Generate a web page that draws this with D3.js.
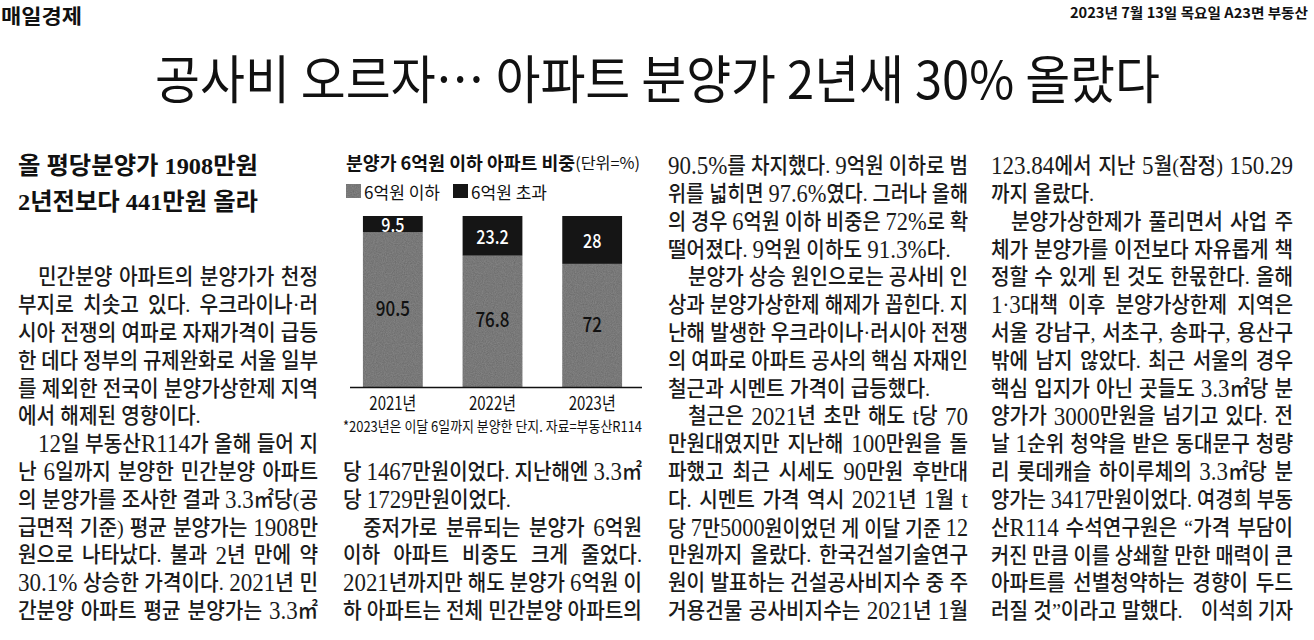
<!DOCTYPE html>
<html>
<head>
<meta charset="utf-8">
<script src="https://cdn.jsdelivr.net/npm/d3@7"></script>
<style>
    html, body { margin: 0; padding: 0; background: #fff; }
    svg { display: block; }
    .body { font-family: 'Liberation Serif', 'Noto Sans CJK KR', serif; font-size: 22px; font-weight: 500; fill: #1b1b1b; }
    .gothic { font-family: 'Noto Sans CJK KR', 'Noto Sans', sans-serif; }
</style>
</head>
<body>
<svg id="page" width="1314" height="640"></svg>
<script>
(function () {
    const years = ['2021년', '2022년', '2023년'];
    const under6 = [90.5, 76.8, 72];
    const over6 = [9.5, 23.2, 28];
    const legendLabels = ['6억원 이하', '6억원 초과'];
    const chartTitle = '분양가 6억원 이하 아파트 비중';
    const chartUnit = '(단위=%)';
    const chartNote = '*2023년은 이달 6일까지 분양한 단지. 자료=부동산R114';

    const masthead = '매일경제';
    const dateline = '2023년 7월 13일 목요일 A23면 부동산';
    const headline = '공사비 오르자… 아파트 분양가 2년새 30% 올랐다';
    const subheads = ['올 평당분양가 1908만원', '2년전보다 441만원 올라'];
    const byline = '이석희 기자';

    // '^' = indented first line, '$' = last line of paragraph (not justified)
    const column1 = [
        '^민간분양 아파트의 분양가가 천정',
        '부지로 치솟고 있다. 우크라이나·러',
        '시아 전쟁의 여파로 자재가격이 급등',
        '한 데다 정부의 규제완화로 서울 일부',
        '를 제외한 전국이 분양가상한제 지역',
        '에서 해제된 영향이다.$',
        '^12일 부동산R114가 올해 들어 지',
        '난 6일까지 분양한 민간분양 아파트',
        '의 분양가를 조사한 결과 3.3㎡당(공',
        '급면적 기준) 평균 분양가는 1908만',
        '원으로 나타났다. 불과 2년 만에 약',
        '30.1% 상승한 가격이다. 2021년 민',
        '간분양 아파트 평균 분양가는 3.3㎡',
    ];
    const column2 = [
        '당 1467만원이었다. 지난해엔 3.3㎡',
        '당 1729만원이었다.$',
        '^중저가로 분류되는 분양가 6억원',
        '이하 아파트 비중도 크게 줄었다.',
        '2021년까지만 해도 분양가 6억원 이',
        '하 아파트는 전체 민간분양 아파트의',
    ];
    const column3 = [
        '90.5%를 차지했다. 9억원 이하로 범',
        '위를 넓히면 97.6%였다. 그러나 올해',
        '의 경우 6억원 이하 비중은 72%로 확',
        '떨어졌다. 9억원 이하도 91.3%다.$',
        '^분양가 상승 원인으로는 공사비 인',
        '상과 분양가상한제 해제가 꼽힌다. 지',
        '난해 발생한 우크라이나·러시아 전쟁',
        '의 여파로 아파트 공사의 핵심 자재인',
        '철근과 시멘트 가격이 급등했다.$',
        '^철근은 2021년 초만 해도 t당 70',
        '만원대였지만 지난해 100만원을 돌',
        '파했고 최근 시세도 90만원 후반대',
        '다. 시멘트 가격 역시 2021년 1월 t',
        '당 7만5000원이었던 게 이달 기준 12',
        '만원까지 올랐다. 한국건설기술연구',
        '원이 발표하는 건설공사비지수 중 주',
        '거용건물 공사비지수는 2021년 1월',
    ];
    const column4 = [
        '123.84에서 지난 5월(잠정) 150.29',
        '까지 올랐다.$',
        '^분양가상한제가 풀리면서 사업 주',
        '체가 분양가를 이전보다 자유롭게 책',
        '정할 수 있게 된 것도 한몫한다. 올해',
        '1·3대책 이후 분양가상한제 지역은',
        '서울 강남구, 서초구, 송파구, 용산구',
        '밖에 남지 않았다. 최근 서울의 경우',
        '핵심 입지가 아닌 곳들도 3.3㎡당 분',
        '양가가 3000만원을 넘기고 있다. 전',
        '날 1순위 청약을 받은 동대문구 청량',
        '리 롯데캐슬 하이루체의 3.3㎡당 분',
        '양가는 3417만원이었다. 여경희 부동',
        '산R114 수석연구원은 “가격 부담이',
        '커진 만큼 이를 상쇄할 만한 매력이 큰',
        '아파트를 선별청약하는 경향이 두드',
        '러질 것”이라고 말했다.$',
    ];

    const svg = d3.select('#page');
    const condense = 0.92;
    const rowY = k => 166 + k * 27.8;

    // grain for the printed grey
    const defs = svg.append('defs');
    const grain = defs.append('filter').attr('id', 'grain')
                      .attr('x', 0).attr('y', 0).attr('width', '100%').attr('height', '100%');
    grain.append('feTurbulence').attr('type', 'fractalNoise').attr('baseFrequency', 0.9)
         .attr('numOctaves', 2).attr('seed', 4).attr('result', 'noise');
    grain.append('feColorMatrix').attr('in', 'noise').attr('type', 'matrix')
         .attr('values', '0 0 0 0 0  0 0 0 0 0  0 0 0 0 0  0 0 0 0.45 0').attr('result', 'dark');
    grain.append('feComposite').attr('in', 'dark').attr('in2', 'SourceGraphic')
         .attr('operator', 'in').attr('result', 'clip');
    let merge = grain.append('feMerge');
    merge.append('feMergeNode').attr('in', 'SourceGraphic');
    merge.append('feMergeNode').attr('in', 'clip');

    // latin runs (numbers, R114, t) get a bigger size so they stand as tall as the hangul
    function fillRuns(t, text) {
        let re = /[0-9A-Za-z][0-9A-Za-z.%]*[0-9A-Za-z%]|[0-9A-Za-z]/g;
        let pos = 0, m;
        while ((m = re.exec(text)) !== null) {
            if (m.index > pos) {
                t.append('tspan').text(text.slice(pos, m.index));
            }
            t.append('tspan').attr('font-size', '1.14em').text(m[0]);
            pos = m.index + m[0].length;
        }
        if (pos < text.length) {
            t.append('tspan').text(text.slice(pos));
        }
    }

    // masthead line
    svg.append('text')
       .attr('class', 'gothic')
       .attr('x', 1).attr('y', 15)
       .attr('dominant-baseline', 'central')
       .attr('font-size', 20).attr('font-weight', 700)
       .attr('fill', '#111')
       .attr('textLength', 81).attr('lengthAdjust', 'spacingAndGlyphs')
       .text(masthead);

    svg.append('text')
       .attr('class', 'gothic')
       .attr('x', 1070).attr('y', 12)
       .attr('dominant-baseline', 'central')
       .attr('font-size', 14).attr('font-weight', 700)
       .attr('fill', '#111')
       .attr('textLength', 238).attr('lengthAdjust', 'spacingAndGlyphs')
       .text(dateline);

    svg.append('text')
       .attr('class', 'gothic')
       .attr('x', 155).attr('y', 76)
       .attr('dominant-baseline', 'central')
       .attr('font-size', 52).attr('font-weight', 400)
       .attr('fill', '#111')
       .attr('textLength', 1005).attr('lengthAdjust', 'spacingAndGlyphs')
       .text(headline);

    subheads.forEach((s, i) => {
        svg.append('text')
           .attr('x', 18).attr('y', 166 + i * 36)
           .attr('dominant-baseline', 'central')
           .style('font-family', "'Liberation Serif', 'Noto Sans CJK KR', serif")
           .attr('font-size', 24).attr('font-weight', 700)
           .attr('fill', '#111')
           .attr('textLength', 240).attr('lengthAdjust', 'spacingAndGlyphs')
           .text(s);
    });

    function drawColumn(lines, x, width, firstRow) {
        lines.forEach((raw, i) => {
            let indent = raw.startsWith('^') ? 20 : 0;
            let last = raw.endsWith('$');
            let text = raw.replace(/^\^/, '').replace(/\$$/, '');
            let left = x + indent;
            let top = rowY(firstRow + i);
            let g = svg.append('g')
                       .attr('transform', `translate(${left}, ${top}) scale(${condense}, 1)`);
            let t = g.append('text')
                     .attr('class', 'body')
                     .attr('dominant-baseline', 'central');
            fillRuns(t, text);
            if (last) {
                return;
            }
            let natural = t.node().getComputedTextLength();
            let target = (width - indent) / condense;
            let spaces = (text.match(/ /g) || []).length;
            let extra = target - natural;
            if (spaces > 0 && extra > 0) {
                t.attr('word-spacing', extra / spaces);
            } else {
                // too long for the column: squeeze the whole line a little more
                g.attr('transform', `translate(${left}, ${top}) scale(${(width - indent) / natural}, 1)`);
            }
        });
    }

    drawColumn(column1, 18, 300, 4);
    drawColumn(column2, 343, 299, 11);
    drawColumn(column3, 668, 300, 0);
    drawColumn(column4, 991, 302, 0);

    svg.append('text')
       .attr('class', 'body')
       .attr('x', 1293).attr('y', rowY(16))
       .attr('dominant-baseline', 'central')
       .attr('text-anchor', 'end')
       .attr('font-size', 19)
       .attr('textLength', 92).attr('lengthAdjust', 'spacingAndGlyphs')
       .text(byline);

    // chart
    const chart = svg.append('g').attr('class', 'gothic');
    const [chartLeft, chartRight, chartTop, chartBase] = [343, 642, 216, 387];

    const x = d3.scaleBand()
                .domain(years)
                .range([chartLeft, chartRight])
                .paddingInner(0.4)
                .paddingOuter(0.2);
    const y = d3.scaleLinear()
                .domain([0, 100])
                .range([chartBase, chartTop]);

    let title = chart.append('text')
                     .attr('x', 346).attr('y', 162)
                     .attr('dominant-baseline', 'central')
                     .attr('fill', '#111')
                     .attr('textLength', 294).attr('lengthAdjust', 'spacingAndGlyphs');
    title.append('tspan').attr('font-size', 18).attr('font-weight', 700).text(chartTitle);
    title.append('tspan').attr('font-size', 16).attr('font-weight', 400).text(chartUnit);

    const legendX = [346, 453];
    const legendFill = ['#888', '#151515'];
    legendLabels.forEach((label, i) => {
        chart.append('rect')
             .attr('x', legendX[i]).attr('y', 184)
             .attr('width', 15).attr('height', 14)
             .attr('fill', legendFill[i])
             .attr('filter', i === 0 ? 'url(#grain)' : null);
        chart.append('text')
             .attr('x', legendX[i] + 18).attr('y', 191)
             .attr('dominant-baseline', 'central')
             .attr('font-size', 17)
             .attr('fill', '#111')
             .attr('textLength', 76).attr('lengthAdjust', 'spacingAndGlyphs')
             .text(label);
    });

    const bars = chart.selectAll('g.bar')
                      .data(years.map((yr, i) => ({ year: yr, low: under6[i], high: over6[i] })))
                      .enter()
                      .append('g')
                      .attr('class', 'bar');

    bars.append('rect')
        .attr('x', d => x(d.year))
        .attr('y', d => y(d.low))
        .attr('width', x.bandwidth())
        .attr('height', d => y(0) - y(d.low))
        .attr('fill', '#888')
        .attr('filter', 'url(#grain)');

    bars.append('rect')
        .attr('x', d => x(d.year))
        .attr('y', d => y(d.low + d.high))
        .attr('width', x.bandwidth())
        .attr('height', d => y(d.low) - y(d.low + d.high))
        .attr('fill', '#151515');

    const squeeze = d => {
        let cx = x(d.year) + x.bandwidth() / 2;
        return `translate(${cx}, 0) scale(0.85, 1) translate(${-cx}, 0)`;
    };

    bars.append('text')
        .attr('x', d => x(d.year) + x.bandwidth() / 2)
        .attr('y', d => (y(0) + y(d.low)) / 2 - 3)
        .attr('text-anchor', 'middle')
        .attr('dominant-baseline', 'central')
        .attr('font-size', 20).attr('font-weight', 500)
        .attr('fill', '#111')
        .attr('transform', squeeze)
        .text(d => d.low);

    bars.append('text')
        .attr('x', d => x(d.year) + x.bandwidth() / 2)
        .attr('y', d => (y(d.low) + y(d.low + d.high)) / 2)
        .attr('text-anchor', 'middle')
        .attr('dominant-baseline', 'central')
        .attr('font-size', 19).attr('font-weight', 500)
        .attr('fill', '#fff')
        .attr('transform', squeeze)
        .text(d => d.high);

    const axis = chart.append('g')
                      .attr('transform', `translate(0, ${chartBase})`)
                      .call(d3.axisBottom(x).tickSize(0).tickPadding(8));
    axis.select('.domain')
        .attr('d', `M350,0.5H${chartRight}`)
        .attr('stroke', '#111')
        .attr('stroke-width', 1.5);
    axis.selectAll('text')
        .attr('font-family', "'Noto Sans CJK KR', sans-serif")
        .attr('font-size', 18)
        .attr('fill', '#111')
        .attr('dy', null)
        .attr('y', 15)
        .attr('dominant-baseline', 'central')
        .attr('textLength', 47).attr('lengthAdjust', 'spacingAndGlyphs');

    chart.append('text')
         .attr('x', 343).attr('y', 425)
         .attr('dominant-baseline', 'central')
         .attr('font-size', 15)
         .attr('fill', '#111')
         .attr('textLength', 299).attr('lengthAdjust', 'spacingAndGlyphs')
         .text(chartNote);
})();
</script>
</body>
</html>
